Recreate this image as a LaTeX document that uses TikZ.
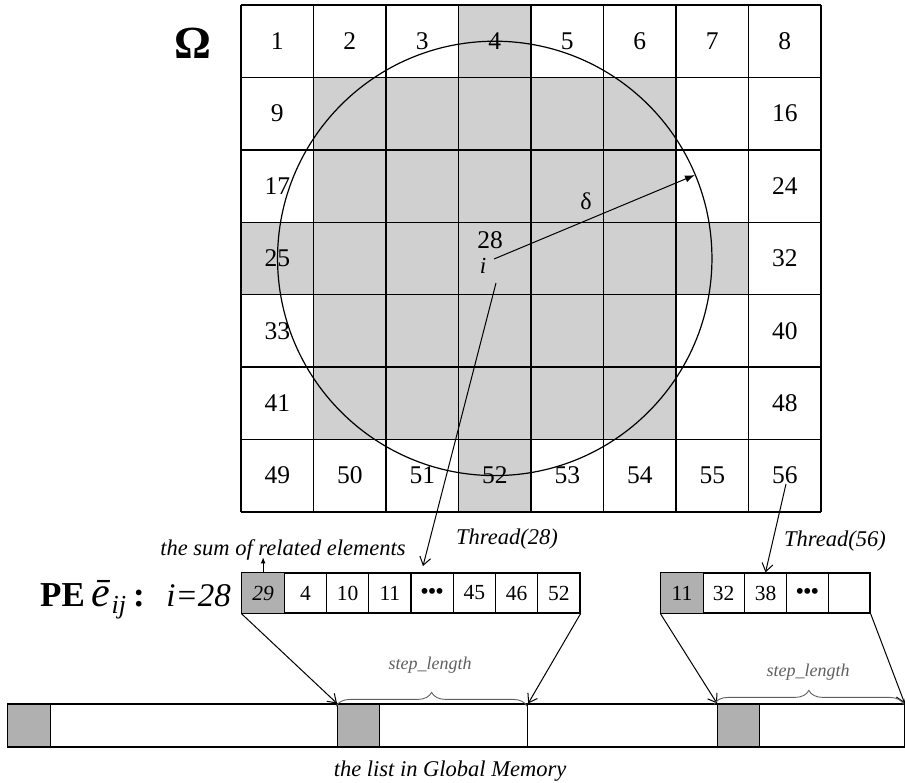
\documentclass[tikz,border=0pt]{standalone}
\usepackage{fontspec}
\setmainfont{Liberation Serif}
\usetikzlibrary{arrows.meta,decorations.pathreplacing}
\definecolor{lgray}{RGB}{208,208,208}
\definecolor{dgray}{RGB}{176,176,176}
\definecolor{bgray}{RGB}{95,95,95}
\tikzset{
  gridline/.style={line width=1.4pt},
  num/.style={font=\fontsize{25.5}{28}\selectfont, inner sep=0pt},
  pecell/.style={draw, line width=1.2pt, minimum width=42.25pt, minimum height=40pt, inner sep=0pt, font=\fontsize{21.5}{24}\selectfont},
  qcell/.style={draw, line width=1.2pt, minimum width=41.8pt, minimum height=40pt, inner sep=0pt, font=\fontsize{21.5}{24}\selectfont},
  lcell/.style={draw, line width=1.2pt, minimum height=43pt, inner sep=0pt, anchor=west},
  openarrow/.style={line width=1pt, -{Straight Barb[length=8pt,width=11pt,line width=1pt]}},
  itlabel/.style={font=\fontsize{22.5}{25}\itshape, inner sep=0pt},
  steplabel/.style={font=\fontsize{18}{20}\itshape, text=bgray, inner sep=0pt},
  bracestyle/.style={bgray, line width=0.9pt, decorate, decoration={brace, amplitude=14pt, aspect=0.5}}
}
\begin{document}
\begin{tikzpicture}[x=1pt,y=-1pt]
\useasboundingbox (0,0) rectangle (905,782);
% shading of the neighbourhood
\fill[lgray] (313.5,77.4) rectangle (676,439.4);
\fill[lgray] (241,222.2) rectangle (748.5,294.6);
\fill[lgray] (458.5,5) rectangle (531,511.8);
% grid
\foreach \c in {0,...,8} \draw[gridline] ({241+\c*72.5},5) -- ({241+\c*72.5},511.8);
\foreach \r in {0,...,7} \draw[gridline] (241,{5+\r*72.4}) -- (821,{5+\r*72.4});
% numbers
\foreach \n in {1,...,8} \node[num] (c\n) at ({241+(\n-0.5)*72.5},41.2) {\n};
\foreach \n/\r in {9/2,17/3,25/4,33/5,41/6} \node[num] (c\n) at (277.25,{5+(\r-0.5)*72.4}) {\n};
\foreach \n/\r in {16/2,24/3,32/4,40/5,48/6} \node[num] (c\n) at (784.75,{5+(\r-0.5)*72.4}) {\n};
\foreach \n [evaluate=\n as \c using int(\n-48)] in {49,...,56} \node[num] (c\n) at ({241+(\c-0.5)*72.5},475.6) {\n};
% circle
\draw[line width=1.2pt] (494.75,258.4) circle (217.2);
% centre cell
\node[num] (n28) at (490,240) {28};
\node[font=\fontsize{23}{24}\itshape, inner sep=0pt] (ni) at (483,266) {i};
\coordinate (dstart) at (494,259);
\coordinate (dend) at (695,175);
\draw[line width=1pt, -{Latex[length=10pt,width=7pt]}] (dstart) -- (dend);
\node[font=\fontsize{24}{26}\selectfont, inner sep=0pt] (delta) at (586,201) {δ};
\node[font=\fontsize{46}{50}\bfseries, inner sep=0pt] (omega) at (193,43) {Ω};
% PE array
\foreach \t [count=\k] in {29,4,10,11,{\textbf{•••}},45,46,52}
  \node[pecell] (pe\k) at ({242+(\k-0.5)*42.25},593) {\t};
\fill[dgray, draw=black, line width=1.2pt] (pe1.north west) rectangle (pe1.south east);
\node[font=\fontsize{21.5}{24}\itshape, inner sep=0pt] (pe1t) at (pe1) {29};
% second array
\foreach \t [count=\k] in {11,32,38,{\textbf{•••}},{}}
  \node[qcell] (q\k) at ({661+(\k-0.5)*41.8},593) {\t};
\fill[dgray, draw=black, line width=1.2pt] (q1.north west) rectangle (q1.south east);
\node[font=\fontsize{21.5}{24}\selectfont, inner sep=0pt] (q1t) at (q1) {11};
% thread arrows
\coordinate (t28s) at (496,283);
\coordinate (t28e) at (423,566);
\draw[openarrow] (t28s) -- (t28e);
\coordinate (t56s) at (786,484);
\draw[openarrow] (t56s) -- (q3.north);
\node[itlabel] (th28) at (507,539) {Thread(28)};
\node[itlabel] (th56) at (835,541) {Thread(56)};
% sum label
\node[itlabel] (sum) at (283,550) {the sum of related elements};
\draw[line width=0.9pt, -{Latex[length=6pt,width=5pt]}] (pe1.north) -- ++(0,-15);
% PE label
\node[anchor=base west, inner sep=0pt] (pelabel) at (40,606) {{\fontsize{35}{40}\bfseries PE}\hspace{7pt}{\fontsize{42}{44}\itshape ē}\hspace{1pt}\raisebox{-7pt}{\fontsize{26}{26}\itshape ij}\hspace{7pt}{\fontsize{35}{40}\bfseries :}};
\node[anchor=base east, inner sep=0pt, font=\fontsize{33}{38}\itshape] (ieq) at (231,606) {i=28};
% global list
\node[lcell, fill=dgray, minimum width=43pt] (l1) at (7,725.5) {};
\node[lcell, minimum width=287pt] (l2) at (50,725.5) {};
\node[lcell, fill=dgray, minimum width=42pt] (l3) at (337,725.5) {};
\node[lcell, minimum width=148pt] (l4) at (379,725.5) {};
\node[lcell, minimum width=190pt] (l5) at (527,725.5) {};
\node[lcell, fill=dgray, minimum width=42pt] (l6) at (717,725.5) {};
\node[lcell, minimum width=144.5pt] (l7) at (759,725.5) {};
% connectors to list
\draw[openarrow] (pe1.south west) -- (l3.north west);
\draw[openarrow] (pe8.south east) -- (l4.north east);
\draw[openarrow] (q1.south west) -- (l6.north west);
\draw[openarrow] (q5.south east) -- (l7.north east);
% braces
\draw[bracestyle] ([xshift=-1pt,yshift=-3pt]l3.north west) -- ([xshift=-1pt,yshift=-3pt]l4.north east);
\draw[bracestyle] ([xshift=-3pt,yshift=-1pt]l6.north west) -- ([xshift=-1pt,yshift=-1pt]l7.north east);
\node[steplabel] (sl1) at (430,665) {step\_length};
\node[steplabel] (sl2) at (808,672) {step\_length};
\node[font=\fontsize{22.5}{26}\itshape, inner sep=0pt] (glabel) at (450,771) {the list in Global Memory};
\end{tikzpicture}
\end{document}
